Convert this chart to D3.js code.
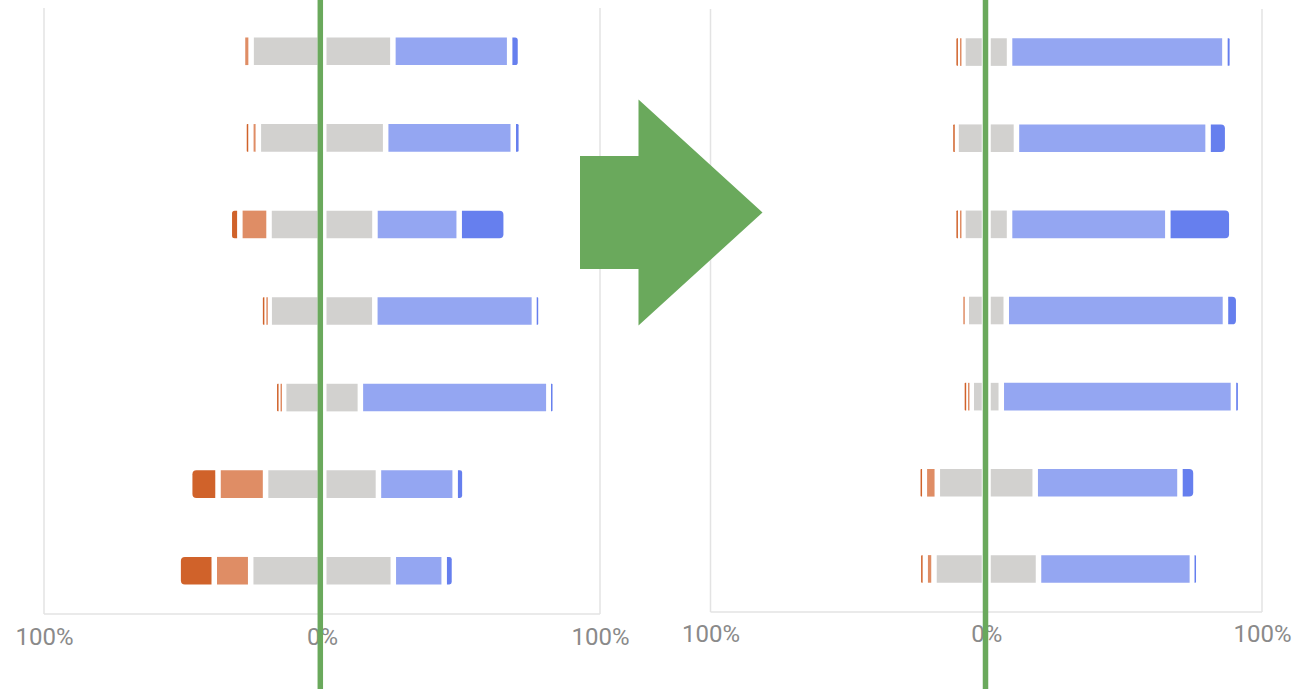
<!DOCTYPE html>
<html><head><meta charset="utf-8">
<script src="https://cdn.jsdelivr.net/npm/d3@7"></script>
<style>html,body{margin:0;padding:0;background:#fff;overflow:hidden}</style>
</head><body>
<svg id="chart" width="1304" height="689"></svg>
<script>
// ---------- data ----------
const categories = ["Item 1", "Item 2", "Item 3", "Item 4", "Item 5", "Item 6", "Item 7"];
const levels = ["Strongly disagree", "Disagree", "Neutral", "Agree", "Strongly agree"];
const tickValues = [-100, 0, 100];
const tickLabels = ["100%", "0%", "100%"];

// before (left chart), percent of responses
const beforeStronglyDisagree = [0, 2.4, 3.8, 1.0, 0.8, 10.2, 13.0];
const beforeDisagree         = [3.1, 2.7, 10.5, 1.5, 1.7, 17.1, 13.1];
const beforeNeutral          = [51.0, 45.8, 38.1, 38.0, 27.6, 40.6, 51.3];
const beforeAgree            = [42.0, 45.9, 30.3, 57.4, 67.8, 27.6, 18.3];
const beforeStronglyAgree    = [3.9, 2.9, 16.9, 2.2, 2.1, 3.5, 3.7];

// after (right chart)
const afterStronglyDisagree = [1.0, 1.5, 1.0, 0, 0.6, 2.2, 2.4];
const afterDisagree         = [1.6, 0, 1.6, 1.6, 1.8, 4.7, 3.2];
const afterNeutral          = [16.9, 21.9, 16.9, 14.5, 10.9, 35.5, 37.9];
const afterAgree            = [78.1, 69.5, 57.4, 79.5, 84.2, 52.5, 55.8];
const afterStronglyAgree    = [2.7, 7.1, 23.2, 4.8, 2.6, 5.8, 2.1];

const levelColors = ["#d0622a", "#df8d65", "#d2d1cf", "#94a6f2", "#667fee"];
const green = "#6aa95c";

// ---------- drawing ----------
const svg = d3.select("#chart");
const color = d3.scaleOrdinal().domain(levels).range(levelColors);

function buildRows(sd, d, n, a, sa) {
  return categories.map((c, i) => ({
    cat: c,
    segs: [
      {level: levels[0], lo: -n[i] / 2 - d[i] - sd[i], hi: -n[i] / 2 - d[i], v: sd[i]},
      {level: levels[1], lo: -n[i] / 2 - d[i], hi: -n[i] / 2, v: d[i]},
      {level: levels[2], lo: -n[i] / 2, hi: 0, v: n[i] / 2, centerRight: true},
      {level: levels[2], lo: 0, hi: n[i] / 2, v: n[i] / 2, centerLeft: true},
      {level: levels[3], lo: n[i] / 2, hi: n[i] / 2 + a[i], v: a[i]},
      {level: levels[4], lo: n[i] / 2 + a[i], hi: n[i] / 2 + a[i] + sa[i], v: sa[i]}
    ]
  }));
}

function roundedPath(x, y, w, h, rl, rr) {
  return `M${x + rl},${y}H${x + w - rr}` +
    (rr ? `Q${x + w},${y} ${x + w},${y + rr}` : "") +
    `V${y + h - rr}` +
    (rr ? `Q${x + w},${y + h} ${x + w - rr},${y + h}` : "") +
    `H${x + rl}` +
    (rl ? `Q${x},${y + h} ${x},${y + h - rl}` : "") +
    `V${y + rl}` +
    (rl ? `Q${x},${y} ${x + rl},${y}` : "") + "Z";
}

function drawChart(cfg, rows) {
  const g = svg.append("g");
  const x = d3.scaleLinear().domain([-100, 100]).range([cfg.left, cfg.right]);
  const y = d3.scaleBand().domain(categories).range([cfg.top, cfg.bottom]).padding(0);
  const barH = 27.6;
  const gap = 2.75, centerGap = 4.5, minW = 1.5;

  // grid frame
  g.append("g").selectAll("line").data([-100, 100]).join("line")
    .attr("x1", d => x(d)).attr("x2", d => x(d))
    .attr("y1", cfg.top).attr("y2", cfg.bottom)
    .attr("stroke", "#e3e3e3").attr("stroke-width", 1.5);
  g.append("line")
    .attr("x1", x(-100)).attr("x2", x(100))
    .attr("y1", cfg.bottom).attr("y2", cfg.bottom)
    .attr("stroke", "#e3e3e3").attr("stroke-width", 1.5);

  // bars
  const rowG = g.append("g").selectAll("g").data(rows).join("g")
    .attr("transform", d => `translate(0,${y(d.cat) + y.bandwidth() / 2 - barH / 2})`);
  rowG.selectAll("path").data(d => d.segs.filter(s => s.v > 0)).join("path")
    .attr("fill", s => color(s.level))
    .attr("d", s => {
      const x0 = x(s.lo), x1 = x(s.hi);
      const li = s.centerLeft ? centerGap : gap;
      const ri = s.centerRight ? centerGap : gap;
      let vx = x0 + li, vw = x1 - x0 - li - ri;
      if (vw < minW) { vw = minW; vx = (x0 + x1) / 2 - minW / 2; }
      const r = Math.min(4, vw / 2);
      const rl = s.level === levels[0] ? r : 0;
      const rr = s.level === levels[4] ? r : 0;
      return roundedPath(vx, 0, vw, barH, rl, rr);
    });

  // axis labels
  const axis = d3.axisBottom(x).tickValues(tickValues)
    .tickFormat((d, i) => tickLabels[i]).tickSize(0).tickPadding(cfg.labelPad);
  const ax = g.append("g").attr("transform", `translate(0,${cfg.bottom})`).call(axis);
  ax.select(".domain").remove();
  ax.selectAll("text").attr("fill", "#8a8a8a")
    .style("font-family", "Roboto, 'Liberation Sans', sans-serif").style("font-size", "24px");

  return x;
}

const leftX = drawChart({left: 44, right: 600, top: 8, bottom: 614, labelPad: 13.5},
  buildRows(beforeStronglyDisagree, beforeDisagree, beforeNeutral, beforeAgree, beforeStronglyAgree));
const rightX = drawChart({left: 710.5, right: 1262, top: 9, bottom: 612, labelPad: 12.5},
  buildRows(afterStronglyDisagree, afterDisagree, afterNeutral, afterAgree, afterStronglyAgree));

// arrow between the charts
const arrowPts = [[580, 156], [638.5, 156], [638.5, 99.5], [762.5, 212.5], [638.5, 325.5], [638.5, 269], [580, 269]];
svg.append("polygon").attr("points", arrowPts.map(p => p.join(",")).join(" ")).attr("fill", green);

// green zero reference lines
svg.append("g").selectAll("rect").data([leftX(0) - 1.7, rightX(0) - 0.75]).join("rect")
  .attr("x", d => d - 2.75).attr("width", 5.5).attr("y", 0).attr("height", 689)
  .attr("fill", green);
</script>
</body></html>
